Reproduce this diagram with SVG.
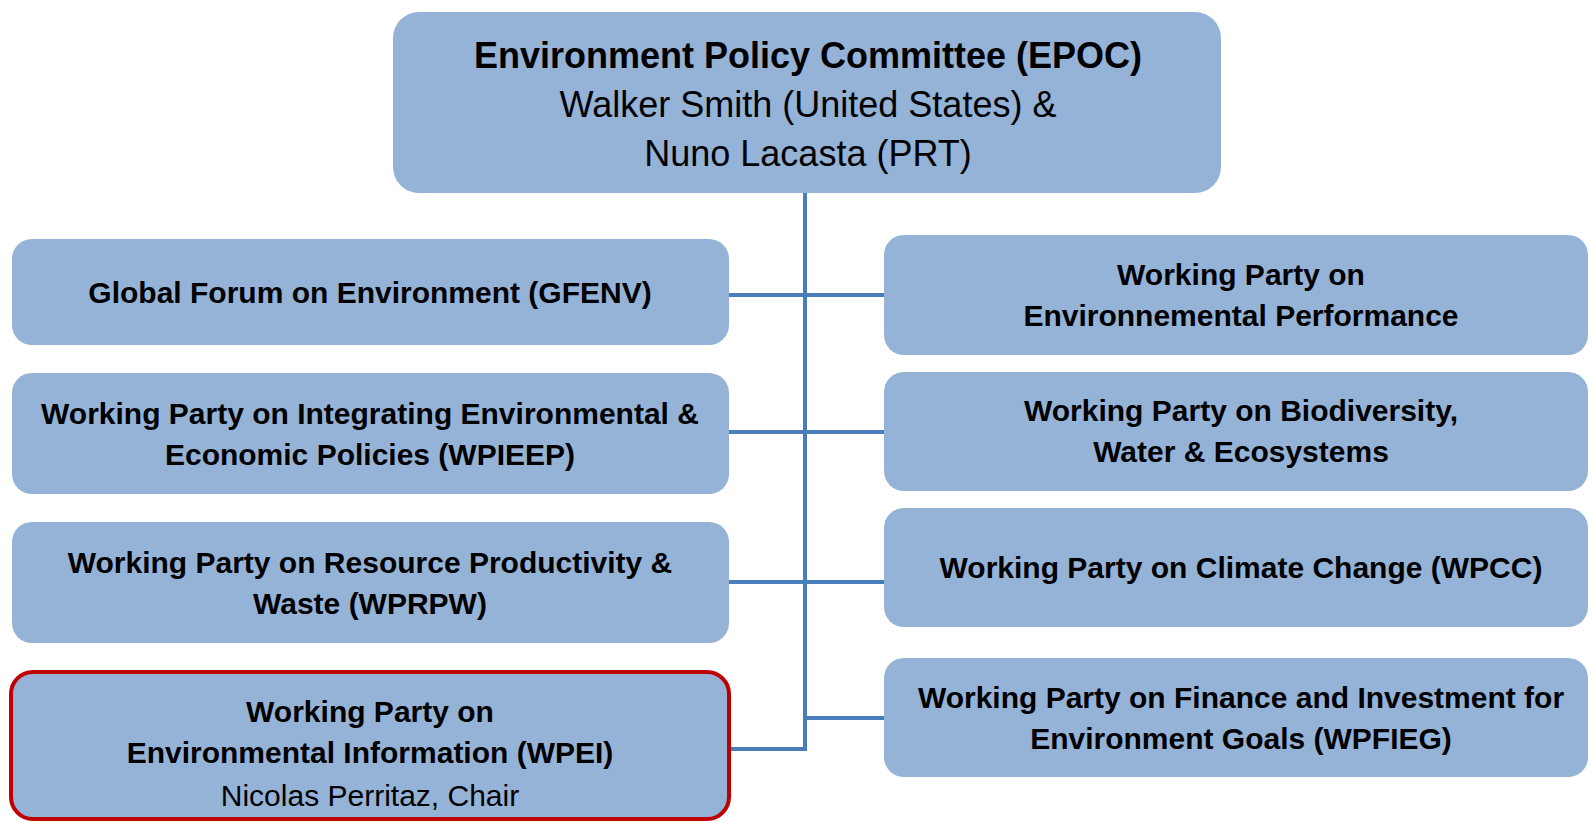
<svg xmlns="http://www.w3.org/2000/svg" width="1589" height="822" viewBox="0 0 1589 822">
<style>
.box{fill:#95b3d7;}
.hl{fill:#95b3d7;stroke:#c00000;stroke-width:4;}
.conn{stroke:#4a7ebb;stroke-width:4;fill:none;}
text{font-family:"Liberation Sans",Arial,sans-serif;fill:#000;text-anchor:middle;}
.b{font-weight:bold;font-size:30px;}
.r{font-size:30px;}
.tb{font-weight:bold;font-size:36px;}
.tr{font-size:36px;}
</style>
<rect width="1589" height="822" fill="#fff"/>
<g id="connectors">
<line class="conn" x1="805" y1="190" x2="805" y2="751"/>
<line class="conn" x1="727" y1="295" x2="886" y2="295"/>
<line class="conn" x1="727" y1="432" x2="886" y2="432"/>
<line class="conn" x1="727" y1="582" x2="886" y2="582"/>
<line class="conn" x1="805" y1="718" x2="886" y2="718"/>
<line class="conn" x1="727" y1="749" x2="807" y2="749"/>
</g>
<g id="epoc">
<rect class="box" x="393" y="12" width="828" height="181" rx="26"/>
<text class="tb" x="808" y="68">Environment Policy Committee (EPOC)</text>
<text class="tr" x="808" y="117">Walker Smith (United States) &amp;</text>
<text class="tr" x="808" y="166">Nuno Lacasta (PRT)</text>
</g>
<g id="gfenv">
<rect class="box" x="12" y="239" width="717" height="106" rx="20"/>
<text class="b" x="370" y="303">Global Forum on Environment (GFENV)</text>
</g>
<g id="wpieep">
<rect class="box" x="12" y="373" width="717" height="121" rx="20"/>
<text class="b" x="370" y="424">Working Party on Integrating Environmental &amp;</text>
<text class="b" x="370" y="465">Economic Policies (WPIEEP)</text>
</g>
<g id="wprpw">
<rect class="box" x="12" y="522" width="717" height="121" rx="20"/>
<text class="b" x="370" y="573">Working Party on Resource Productivity &amp;</text>
<text class="b" x="370" y="614">Waste (WPRPW)</text>
</g>
<g id="wpei">
<rect class="hl" x="11" y="672" width="718" height="147" rx="22"/>
<text class="b" x="370" y="722">Working Party on</text>
<text class="b" x="370" y="763">Environmental Information (WPEI)</text>
<text class="r" x="370" y="806">Nicolas Perritaz, Chair</text>
</g>
<g id="wpep">
<rect class="box" x="884" y="235" width="704" height="120" rx="20"/>
<text class="b" x="1241" y="285">Working Party on</text>
<text class="b" x="1241" y="326">Environnemental Performance</text>
</g>
<g id="wpbwe">
<rect class="box" x="884" y="372" width="704" height="119" rx="20"/>
<text class="b" x="1241" y="421">Working Party on Biodiversity,</text>
<text class="b" x="1241" y="462">Water &amp; Ecosystems</text>
</g>
<g id="wpcc">
<rect class="box" x="884" y="508" width="704" height="119" rx="20"/>
<text class="b" x="1241" y="578">Working Party on Climate Change (WPCC)</text>
</g>
<g id="wpfieg">
<rect class="box" x="884" y="658" width="704" height="119" rx="20"/>
<text class="b" x="1241" y="708">Working Party on Finance and Investment for</text>
<text class="b" x="1241" y="749">Environment Goals (WPFIEG)</text>
</g>
</svg>
